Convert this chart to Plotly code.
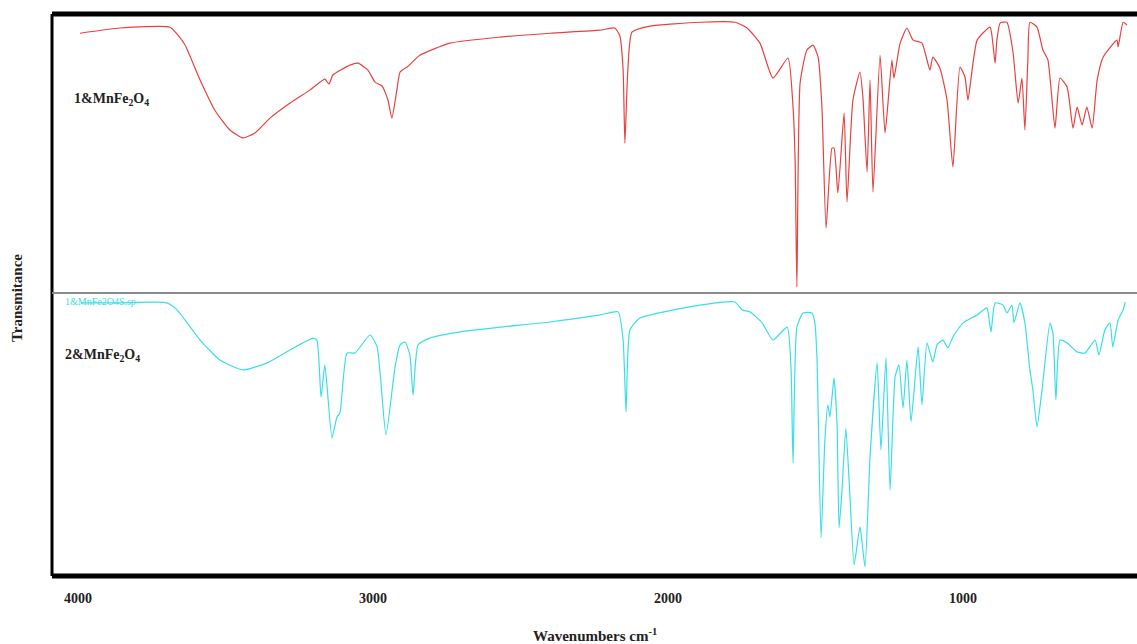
import plotly.graph_objects as go

# ---- data: wavenumber (cm-1) and transmittance (% , arbitrary scale) ----
wn_top = [3993, 3858, 3688, 3661, 3637, 3586, 3536, 3485, 3441, 3400, 3349, 3281, 3214, 3163, 3149, 3136,
          3078, 3051, 3017, 2993, 2969, 2949, 2936, 2919, 2908, 2881, 2841, 2739, 2569, 2400, 2230, 2180,
          2163, 2152, 2146, 2136, 2122, 2061, 1891, 1773, 1732, 1688, 1644, 1593, 1576, 1569, 1563, 1552,
          1529, 1508, 1491, 1478, 1464, 1444, 1437, 1424, 1403, 1393, 1373, 1349, 1339, 1325, 1315, 1305,
          1281, 1264, 1241, 1234, 1213, 1190, 1169, 1139, 1112, 1102, 1078, 1054, 1034, 1010, 993, 983,
          952, 908, 898, 891, 885, 874, 851, 830, 813, 800, 790, 780, 773, 749, 729, 712, 688, 671, 647,
          627, 613, 596, 580, 562, 545, 525, 478, 474, 457, 444]
t_top = [94.5, 96.4, 96.7, 93.8, 90.2, 77.5, 66.5, 59.3, 56.4, 58.2, 63.6, 69.1, 73.8, 77.8, 76.0, 79.3,
         82.9, 83.6, 81.1, 76.7, 75.3, 70.2, 63.6, 73.8, 80.4, 82.5, 86.5, 90.9, 93.1, 94.5, 95.6, 96.4,
         93.5, 81.1, 54.5, 81.1, 94.9, 97.1, 98.5, 98.5, 96.4, 90.9, 78.2, 85.5, 67.6, 48.4, 2.2, 76.4,
         88.4, 90.2, 85.8, 67.6, 23.6, 52.7, 52.7, 36.4, 65.5, 33.1, 70.2, 80.4, 70.9, 44.0, 77.5, 36.7,
         86.5, 58.2, 84.7, 78.2, 90.9, 96.4, 92.0, 90.9, 81.1, 85.8, 81.8, 70.2, 45.8, 82.2, 78.5, 70.2,
         92.0, 96.7, 90.2, 83.6, 92.0, 98.2, 98.5, 87.3, 69.1, 78.2, 59.3, 84.7, 98.5, 96.7, 88.4, 84.7,
         60.0, 78.2, 74.9, 60.0, 67.6, 61.1, 67.6, 60.0, 77.5, 85.8, 92.0, 89.5, 98.5, 97.5]

wn_bot = [3990, 3858, 3698, 3664, 3586, 3519, 3441, 3359, 3281, 3203, 3190, 3176, 3163, 3139, 3122, 3112,
          3088, 3061, 3010, 2986, 2956, 2925, 2908, 2891, 2875, 2864, 2847, 2807, 2705, 2569, 2400, 2230,
          2169, 2152, 2142, 2129, 2095, 1891, 1773, 1749, 1722, 1681, 1644, 1596, 1583, 1576, 1563, 1542,
          1512, 1502, 1495, 1481, 1468, 1458, 1451, 1437, 1427, 1420, 1410, 1397, 1383, 1369, 1349, 1332,
          1315, 1291, 1278, 1261, 1247, 1230, 1217, 1203, 1190, 1176, 1152, 1139, 1122, 1102, 1088, 1068,
          1051, 1034, 1000, 952, 919, 905, 891, 864, 851, 834, 827, 807, 790, 773, 763, 749, 732, 705, 695,
          685, 671, 647, 613, 586, 552, 539, 519, 502, 492, 474, 457, 450]
t_bot = [96.5, 96.5, 96.5, 94.0, 83.3, 76.2, 72.7, 75.2, 79.8, 84.0, 83.3, 63.1, 74.5, 48.6, 56.0, 57.4,
         78.7, 78.7, 85.1, 80.9, 49.6, 73.8, 81.6, 82.6, 78.0, 63.8, 81.6, 84.0, 86.2, 87.9, 89.7, 92.2,
         93.3, 83.3, 57.8, 86.9, 91.1, 95.7, 96.8, 94.0, 93.3, 89.4, 83.3, 87.9, 73.8, 39.7, 87.9, 92.9,
         92.9, 89.4, 77.3, 13.1, 47.9, 60.3, 56.0, 69.9, 53.9, 16.7, 30.1, 52.1, 27.7, 3.5, 17.0, 2.8,
         41.8, 75.2, 44.3, 77.0, 30.1, 70.2, 74.5, 59.2, 76.2, 54.3, 80.9, 60.3, 82.3, 75.5, 81.6, 83.3,
         80.5, 84.4, 89.4, 92.2, 94.7, 86.2, 96.5, 95.7, 92.9, 95.7, 89.4, 96.5, 89.4, 72.7, 65.6, 52.5,
         65.6, 89.4, 85.8, 62.1, 83.3, 82.3, 79.1, 78.7, 83.3, 78.0, 86.9, 89.4, 80.9, 90.4, 94.0, 96.8]

tick_vals = [4000, 3000, 2000, 1000]
tick_text = ["4000", "3000", "2000", "1000"]

label_top = "1&MnFe<sub>2</sub>O<sub>4</sub>"
label_bot = "2&MnFe<sub>2</sub>O<sub>4</sub>"
file_label = "1&MnFe2O4S.sp"

RED = "#e8413f"
CYAN = "#38dfe8"
SERIF = "Liberation Serif"
split = 0.5036

fig = go.Figure()
fig.add_trace(go.Scatter(x=wn_top, y=t_top, mode="lines",
                         line=dict(color=RED, width=1.2, shape="spline", smoothing=0.5),
                         xaxis="x2", yaxis="y2", showlegend=False, hoverinfo="x+y"))
fig.add_trace(go.Scatter(x=wn_bot, y=t_bot, mode="lines",
                         line=dict(color=CYAN, width=1.2, shape="spline", smoothing=0.5),
                         xaxis="x", yaxis="y", showlegend=False, hoverinfo="x+y"))

fig.update_layout(
    width=1137, height=644,
    margin=dict(l=52, r=0, t=14, b=68),
    paper_bgcolor="white", plot_bgcolor="white",
    xaxis=dict(range=[4088, 410], tickvals=tick_vals, ticktext=tick_text, showgrid=False,
               zeroline=False, showline=False, ticks="outside", ticklen=9,
               tickcolor="rgba(0,0,0,0)", anchor="y",
               tickfont=dict(family=SERIF, size=14, color="#222", weight="bold")),
    xaxis2=dict(matches="x", visible=False, anchor="y2"),
    yaxis=dict(domain=[0, split], range=[-0.4, 100], visible=False),
    yaxis2=dict(domain=[split, 1], range=[0, 101.5], visible=False),
    shapes=[
        dict(type="line", xref="paper", yref="paper", x0=0, x1=1, y0=1, y1=1,
             line=dict(color="black", width=5), layer="above"),
        dict(type="line", xref="paper", yref="paper", x0=0, x1=1, y0=0, y1=0,
             line=dict(color="black", width=5), layer="above"),
        dict(type="line", xref="paper", yref="paper", x0=0, x1=0, y0=0, y1=1,
             line=dict(color="black", width=3), layer="above"),
        dict(type="line", xref="paper", yref="paper", x0=0, x1=1, y0=split, y1=split,
             line=dict(color="#8a8a8a", width=2), layer="above"),
    ],
    annotations=[
        dict(text=label_top, xref="paper", yref="paper", x=0.018, y=0.848, xanchor="left",
             yanchor="middle", showarrow=False,
             font=dict(family=SERIF, size=14, color="#222", weight="bold")),
        dict(text=label_bot, xref="paper", yref="paper", x=0.010, y=0.393, xanchor="left",
             yanchor="middle", showarrow=False,
             font=dict(family=SERIF, size=14, color="#222", weight="bold")),
        dict(text=file_label, xref="paper", yref="paper", x=0.010, y=0.489, xanchor="left",
             yanchor="middle", showarrow=False,
             font=dict(family=SERIF, size=10, color=CYAN)),
        dict(text="Wavenumbers cm<sup>-1</sup>", xref="paper", yref="paper",
             x=0.5, y=-0.105, xanchor="center", yanchor="middle", showarrow=False,
             font=dict(family=SERIF, size=15, color="#222", weight="bold")),
        dict(text="Transmitance", xref="paper", yref="paper", textangle=-90,
             x=-0.032, y=0.495, xanchor="center", yanchor="middle", showarrow=False,
             font=dict(family=SERIF, size=15, color="#222", weight="bold")),
    ],
)

fig.write_html("out.html")
